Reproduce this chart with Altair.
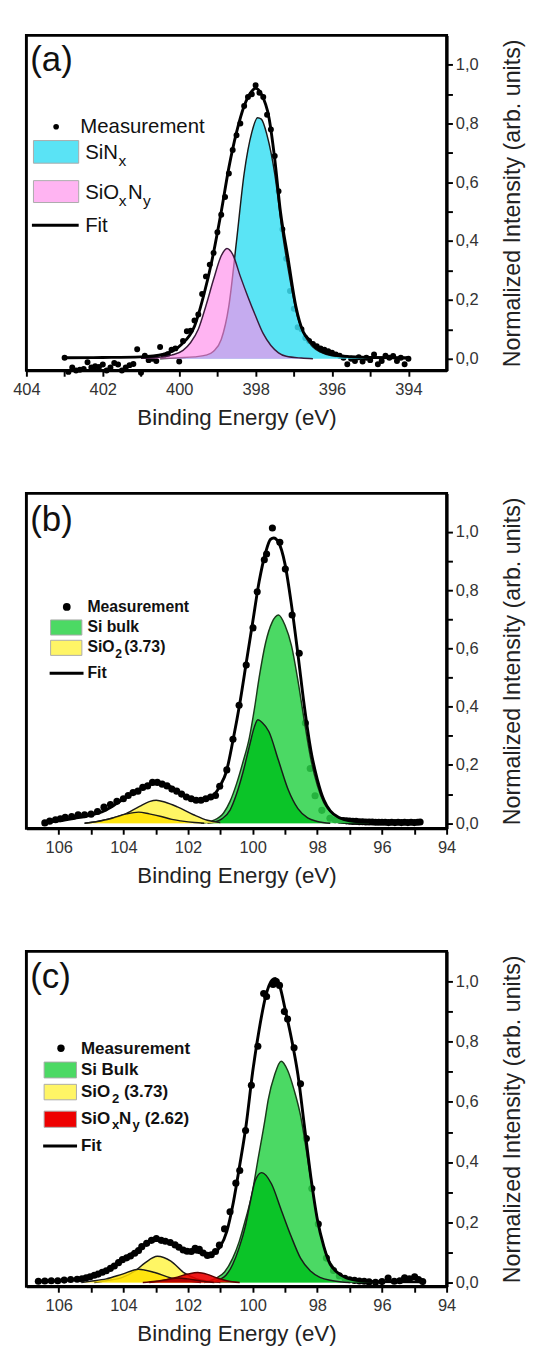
import altair as alt
import pandas as pd

FONT = "Liberation Sans, Arial, sans-serif"

# ---------------- Panel (a): N 1s ----------------
a_meas_x = [403.0, 402.9, 402.8, 402.7, 402.6, 402.5, 402.4, 402.3, 402.2, 402.1,
            402.0, 401.9, 401.8, 401.7, 401.6, 401.5, 401.4, 401.3, 401.2, 401.1,
            401.0, 400.9, 400.8, 400.7, 400.6, 400.5, 400.4, 400.3, 400.2, 400.1,
            400.0, 399.9, 399.8, 399.7, 399.6, 399.5, 399.4, 399.3, 399.2, 399.1,
            399.0, 398.9, 398.8, 398.7, 398.6, 398.5, 398.4, 398.3, 398.2, 398.1,
            398.0, 397.9, 397.8, 397.7, 397.6, 397.5, 397.4, 397.3, 397.2, 397.1,
            397.0, 396.9, 396.8, 396.7, 396.6, 396.5, 396.4, 396.3, 396.2, 396.1,
            396.0, 395.9, 395.8, 395.7, 395.6, 395.5, 395.4, 395.3, 395.2, 395.1,
            395.0, 394.9, 394.8, 394.7, 394.6, 394.5, 394.4, 394.3, 394.2, 394.1, 394.0]
a_meas_y = [0.003, -0.045, -0.030, -0.040, -0.038, -0.035, -0.012, -0.030, -0.026, -0.028,
            -0.020, -0.040, -0.030, -0.015, -0.020, -0.040, -0.030, -0.022, -0.018, 0.032,
            -0.048, 0.010, -0.005, 0.000, -0.008, 0.040, 0.010, 0.015, 0.030, 0.035,
            -0.010, 0.060, 0.093, 0.095, 0.130, 0.150, 0.220, 0.280, 0.320, 0.360,
            0.430, 0.490, 0.550, 0.630, 0.710, 0.760, 0.800, 0.860, 0.890, 0.900,
            0.930, 0.905, 0.890, 0.830, 0.780, 0.690, 0.570, 0.440, 0.340, 0.230,
            0.170, 0.107, 0.100, 0.070, 0.060, 0.050, 0.042, 0.035, 0.030, 0.025,
            0.020, 0.014, 0.010, 0.003, -0.019, 0.000, -0.008, 0.005, -0.010, 0.003,
            -0.005, 0.014, -0.019, -0.008, 0.010, 0.003, 0.009, -0.008, 0.003, -0.019, 0.000]

a_fit_x = [394.0, 395.0, 395.5, 396.0, 396.4, 396.6, 396.75, 396.95, 397.15, 397.35,
           397.5, 397.65, 397.85, 398.0, 398.1, 398.3, 398.5, 398.7, 398.9, 399.15,
           399.35, 399.6, 399.95, 400.4, 401.0, 402.0, 403.0]
a_fit_y = [0.003, 0.004, 0.007, 0.014, 0.036, 0.065, 0.09, 0.18, 0.34, 0.50,
           0.68, 0.82, 0.90, 0.92, 0.91, 0.86, 0.77, 0.65, 0.50, 0.33,
           0.22, 0.11, 0.047, 0.015, 0.006, 0.004, 0.003]

a_sinx_x = [394.0, 395.0, 395.5, 396.0, 396.3, 396.5, 396.7, 396.9, 397.1, 397.3,
            397.5, 397.7, 397.85, 397.95, 398.1, 398.3, 398.5, 398.7, 398.9, 399.1,
            399.3, 399.6, 400.0, 400.5]
a_sinx_y = [0.0, 0.003, 0.006, 0.010, 0.022, 0.040, 0.075, 0.140, 0.270, 0.430,
            0.630, 0.760, 0.815, 0.820, 0.770, 0.630, 0.400, 0.180, 0.065, 0.025,
            0.012, 0.006, 0.003, 0.0]

a_sion_x = [396.5, 396.8, 397.2, 397.4, 397.6, 397.8, 398.0, 398.2, 398.4, 398.6,
            398.75, 398.9, 399.1, 399.3, 399.5, 399.7, 399.9, 400.2, 400.6, 401.0]
a_sion_y = [0.0, 0.002, 0.008, 0.020, 0.045, 0.085, 0.145, 0.210, 0.280, 0.355,
            0.375, 0.350, 0.270, 0.180, 0.100, 0.055, 0.028, 0.012, 0.004, 0.001]

# ---------------- Panel (b): Si 2p ----------------
b_meas_x = [106.43, 106.28, 106.10, 105.95, 105.80, 105.60, 105.40, 105.20, 105.00, 104.80,
            104.60, 104.40, 104.20, 104.00, 103.85, 103.70, 103.55, 103.40, 103.25, 103.10,
            102.95, 102.80, 102.65, 102.50, 102.35, 102.20, 102.05, 101.90, 101.75, 101.60,
            101.45, 101.30, 101.15, 101.02, 100.80, 100.61, 100.42, 100.20, 99.99, 99.86,
            99.64, 99.57, 99.39, 99.16, 98.99, 98.78, 98.56, 98.37, 98.22, 98.07,
            97.86, 97.61, 97.45, 97.30, 97.20, 97.10, 97.00, 96.90, 96.80, 96.70,
            96.60, 96.50, 96.40, 96.30, 96.20, 96.10, 96.00, 95.90, 95.80, 95.70,
            95.60, 95.50, 95.40, 95.30, 95.20, 95.10, 95.00, 94.90, 94.82]
b_meas_y = [0.001, 0.007, 0.012, 0.015, 0.020, 0.023, 0.029, 0.029, 0.031, 0.040,
            0.055, 0.064, 0.075, 0.084, 0.095, 0.105, 0.110, 0.123, 0.128, 0.140,
            0.140, 0.134, 0.128, 0.117, 0.110, 0.100, 0.090, 0.084, 0.079, 0.079,
            0.084, 0.090, 0.095, 0.127, 0.183, 0.288, 0.405, 0.543, 0.671, 0.795,
            0.905, 0.925, 1.014, 0.965, 0.873, 0.715, 0.584, 0.344, 0.188, 0.094,
            0.044, 0.017, 0.012, 0.010, 0.009, 0.008, 0.007, 0.006, 0.006, 0.005,
            0.005, 0.004, 0.004, 0.004, 0.003, 0.003, 0.003, 0.003, 0.002, 0.003,
            0.002, 0.003, 0.002, 0.003, 0.002, 0.003, 0.002, 0.003, 0.004]

b_fit_x = [106.43, 106.0, 105.5, 105.0, 104.6, 104.2, 103.8, 103.4, 103.1, 102.9,
           102.6, 102.3, 102.0, 101.7, 101.45, 101.2, 101.0, 100.82, 100.6, 100.4,
           100.2, 100.0, 99.8, 99.6, 99.45, 99.35, 99.2, 99.0, 98.8, 98.6,
           98.4, 98.2, 98.0, 97.8, 97.6, 97.3, 97.0, 96.5, 96.0, 94.8]
b_fit_y = [0.003, 0.008, 0.017, 0.028, 0.042, 0.068, 0.097, 0.122, 0.135, 0.137,
           0.128, 0.108, 0.090, 0.080, 0.082, 0.097, 0.130, 0.175, 0.290, 0.410,
           0.550, 0.690, 0.830, 0.930, 0.975, 0.980, 0.965, 0.890, 0.750, 0.580,
           0.400, 0.250, 0.150, 0.080, 0.042, 0.018, 0.008, 0.004, 0.003, 0.003]

b_bulk1_x = [101.6, 101.2, 100.9, 100.7, 100.5, 100.3, 100.1, 99.95, 99.8, 99.6,
             99.4, 99.2, 99.0, 98.8, 98.6, 98.4, 98.2, 98.0, 97.8, 97.5,
             97.2, 96.8, 96.4]
b_bulk1_y = [0.0, 0.010, 0.035, 0.075, 0.135, 0.210, 0.295, 0.390, 0.500, 0.620,
             0.690, 0.715, 0.680, 0.610, 0.490, 0.350, 0.220, 0.130, 0.070, 0.030,
             0.012, 0.004, 0.0]

b_bulk2_x = [101.4, 101.2, 100.95, 100.7, 100.5, 100.3, 100.1, 99.95, 99.84, 99.7,
             99.5, 99.2, 98.9, 98.6, 98.3, 98.0, 97.6]
b_bulk2_y = [0.0, 0.003, 0.015, 0.045, 0.100, 0.175, 0.265, 0.330, 0.355, 0.345,
             0.315, 0.215, 0.115, 0.050, 0.018, 0.006, 0.0]

b_ox1_x = [105.2, 104.6, 104.0, 103.5, 103.2, 102.98, 102.7, 102.33, 101.83, 101.4, 101.0]
b_ox1_y = [0.0, 0.010, 0.029, 0.058, 0.074, 0.079, 0.072, 0.056, 0.029, 0.010, 0.002]

b_ox2_x = [105.2, 104.8, 104.33, 103.9, 103.53, 103.2, 102.83, 102.5, 102.23, 101.8, 101.5]
b_ox2_y = [0.0, 0.006, 0.018, 0.032, 0.038, 0.032, 0.023, 0.013, 0.008, 0.002, 0.0]

# ---------------- Panel (c): Si 2p ----------------
c_meas_x = [106.63, 106.43, 106.23, 106.03, 105.83, 105.63, 105.43, 105.28, 105.15, 105.03,
            104.90, 104.78, 104.65, 104.53, 104.40, 104.28, 104.15, 104.03, 103.90, 103.78,
            103.65, 103.53, 103.43, 103.28, 103.13, 102.98, 102.83, 102.70, 102.55, 102.40,
            102.28, 102.15, 102.03, 101.90, 101.78, 101.65, 101.53, 101.40, 101.28, 101.15,
            101.03, 100.87, 100.70, 100.52, 100.40, 100.22, 100.04, 99.84, 99.66, 99.57,
            99.37, 99.27, 99.17, 99.02, 98.92, 98.72, 98.52, 98.34, 98.17, 97.97,
            97.72, 97.50, 97.32, 97.15, 97.00, 96.85, 96.70, 96.55, 96.40, 96.20,
            96.00, 95.81, 95.62, 95.45, 95.30, 95.15, 94.99, 94.87, 94.74]
c_meas_y = [0.004, 0.005, 0.006, 0.006, 0.008, 0.010, 0.011, 0.012, 0.016, 0.019,
            0.024, 0.028, 0.034, 0.039, 0.047, 0.055, 0.066, 0.076, 0.082, 0.088,
            0.097, 0.106, 0.119, 0.130, 0.140, 0.146, 0.140, 0.137, 0.133, 0.125,
            0.117, 0.108, 0.104, 0.103, 0.114, 0.110, 0.098, 0.090, 0.092, 0.103,
            0.124, 0.178, 0.235, 0.330, 0.372, 0.505, 0.655, 0.785, 0.960, 0.950,
            0.990, 1.000, 0.987, 0.900, 0.875, 0.780, 0.660, 0.478, 0.312, 0.194,
            0.081, 0.040, 0.022, 0.014, 0.009, 0.007, 0.005, 0.004, 0.002, 0.001,
            0.003, 0.015, 0.004, 0.006, 0.016, 0.012, 0.019, 0.010, 0.003]

c_fit_x = [106.63, 106.0, 105.5, 105.0, 104.6, 104.2, 103.8, 103.4, 103.1, 102.9,
           102.6, 102.3, 102.0, 101.7, 101.4, 101.2, 101.0, 100.8, 100.6, 100.4,
           100.2, 100.0, 99.8, 99.6, 99.4, 99.3, 99.15, 99.0, 98.8, 98.6,
           98.4, 98.2, 98.0, 97.8, 97.6, 97.4, 97.1, 96.7, 96.2, 94.8]
c_fit_y = [0.004, 0.006, 0.010, 0.020, 0.036, 0.062, 0.092, 0.120, 0.138, 0.140,
           0.132, 0.118, 0.106, 0.100, 0.096, 0.098, 0.120, 0.170, 0.265, 0.390,
           0.525, 0.700, 0.840, 0.950, 1.005, 1.010, 0.980, 0.910, 0.810, 0.690,
           0.520, 0.350, 0.210, 0.120, 0.060, 0.035, 0.015, 0.006, 0.003, 0.002]

c_bulk1_x = [101.5, 101.12, 100.87, 100.62, 100.42, 100.22, 100.02, 99.85, 99.62, 99.52,
             99.32, 99.12, 98.92, 98.72, 98.52, 98.37, 98.17, 97.97, 97.72, 97.42,
             97.02, 96.6, 96.2]
c_bulk1_y = [0.0, 0.015, 0.035, 0.080, 0.135, 0.210, 0.295, 0.400, 0.540, 0.607,
             0.690, 0.735, 0.705, 0.640, 0.555, 0.460, 0.320, 0.195, 0.095, 0.040,
             0.013, 0.004, 0.0]

c_bulk2_x = [101.2, 101.02, 100.82, 100.62, 100.42, 100.22, 100.07, 99.92, 99.72, 99.42,
             99.12, 98.82, 98.52, 98.22, 97.92, 97.52, 97.0]
c_bulk2_y = [0.0, 0.010, 0.025, 0.060, 0.115, 0.190, 0.270, 0.339, 0.365, 0.328,
             0.242, 0.156, 0.081, 0.039, 0.017, 0.006, 0.0]

c_ox1_x = [104.9, 104.53, 104.03, 103.63, 103.33, 102.95, 102.53, 102.13, 101.73, 101.33, 101.0]
c_ox1_y = [0.0, 0.006, 0.017, 0.039, 0.065, 0.087, 0.071, 0.033, 0.012, 0.004, 0.0]

c_ox2_x = [105.3, 105.03, 104.53, 104.03, 103.53, 103.03, 102.53, 102.03, 101.6]
c_ox2_y = [0.0, 0.004, 0.012, 0.028, 0.044, 0.033, 0.015, 0.006, 0.0]

c_on1_x = [103.2, 102.8, 102.4, 102.0, 101.7, 101.4, 101.1, 100.8, 100.4]
c_on1_y = [0.0, 0.006, 0.016, 0.028, 0.033, 0.027, 0.015, 0.006, 0.0]

c_on2_x = [103.4, 103.0, 102.6, 102.3, 102.0, 101.6, 101.2]
c_on2_y = [0.0, 0.004, 0.011, 0.015, 0.012, 0.005, 0.0]

# axis ticks
a_ticks = [394, 395, 396, 397, 398, 399, 400, 401, 402, 403, 404]
bc_ticks = [94, 95, 96, 97, 98, 99, 100, 101, 102, 103, 104, 105, 106]
y_ticks = [0.0, 0.1, 0.2, 0.3, 0.4, 0.5, 0.6, 0.7, 0.8, 0.9, 1.0]

W, H = 434, 346
ONE = pd.DataFrame({"k": [0]})


def df(xs, ys):
    return pd.DataFrame({"x": xs, "y": ys})


def encs(xdom, ydom, xt):
    ex = alt.X("x:Q",
               scale=alt.Scale(domain=xdom, reverse=True, nice=False, zero=False),
               axis=alt.Axis(values=xt, title="Binding Energy (eV)",
                             labelExpr="datum.value % 2 == 0 ? datum.label : ''"))
    ey = alt.Y("y:Q",
               scale=alt.Scale(domain=ydom, nice=False, zero=False),
               axis=alt.Axis(values=y_ticks, orient="right",
                             title="Normalized Intensity (arb. units)",
                             titleAngle=270, titleBaseline="top",
                             labelExpr="round(datum.value*10) % 2 == 0 ? replace(format(datum.value, '.1f'), '.', ',') : ''"))
    return ex, ey


def comp(data, ex, ey, color, opacity, line_color="#1a1a1a"):
    fill = alt.Chart(data).mark_area(interpolate="monotone", color=color, opacity=opacity).encode(
        x=ex, y=ey, y2=alt.datum(0))
    edge = alt.Chart(data).mark_line(interpolate="monotone", color=line_color, strokeWidth=1.5).encode(
        x=ex, y=ey)
    return [fill, edge]


def txt(s, x, y, size, bold=False):
    return alt.Chart(ONE).mark_text(text=s, align="left", baseline="alphabetic", font=FONT,
                                    fontSize=size, fontWeight="bold" if bold else "normal",
                                    color="#111").encode(x=alt.value(x), y=alt.value(y))


def swatch(color, x1, x2, y1, y2):
    return alt.Chart(ONE).mark_rect(color=color, stroke="#aaaaaa", strokeWidth=1).encode(
        x=alt.value(x1), x2=alt.value(x2), y=alt.value(y1), y2=alt.value(y2))


def ldot(x, y, size):
    return alt.Chart(ONE).mark_circle(color="black", opacity=1, size=size).encode(
        x=alt.value(x), y=alt.value(y))


def lline(x1, x2, y):
    return alt.Chart(ONE).mark_rule(color="black", strokeWidth=3).encode(
        x=alt.value(x1), x2=alt.value(x2), y=alt.value(y))


def panel(xdom, ydom, xt, meas, dot_size, comps, fit, letter, letter_y, legend):
    ex, ey = encs(xdom, ydom, xt)
    layers = [alt.Chart(meas).mark_circle(color="black", opacity=1, size=dot_size).encode(x=ex, y=ey)]
    for data, color, op, lc in comps:
        layers += comp(data, ex, ey, color, op, lc)
    layers.append(alt.Chart(fit).mark_line(interpolate="monotone", color="black", strokeWidth=3).encode(x=ex, y=ey))
    layers.append(txt(letter, 4, letter_y, 36))
    layers += legend
    return alt.layer(*layers).properties(width=W, height=H)


# ---- panel a
leg_a = [
    ldot(30.7, 94.3, 34), txt("Measurement", 55.7, 101, 21),
    swatch("#5ae3f5", 7.3, 54, 108.6, 132), txt("SiN", 60.7, 127.6, 21), txt("x", 95, 134.5, 16),
    swatch("#ffb4f2", 7.3, 54, 150, 172.6), txt("SiO", 60.7, 169.3, 21), txt("x", 95.5, 176, 16),
    txt("N", 105, 169.3, 21), txt("y", 120.5, 176, 16),
    lline(5.7, 54, 196), txt("Fit", 60.7, 202.6, 21),
]
pa = panel([393, 404], [-0.04, 1.10], a_ticks, df(a_meas_x, a_meas_y), 38,
           [(df(a_sinx_x, a_sinx_y), "#3ddff3", 0.85, "#1a1a1a"),
            (df(a_sion_x, a_sion_y), "#ff8ceb", 0.65, "#3a1a3a")],
           df(a_fit_x, a_fit_y), "(a)", 36.5, leg_a)

# ---- panel b
leg_b = [
    ldot(41.7, 117.3, 64), txt("Measurement", 63, 122.3, 16.3, True),
    swatch("#4cd964", 25, 57.3, 130.7, 146.3), txt("Si bulk", 63, 143, 16.3, True),
    swatch("#fff566", 25, 57.3, 151.7, 167.3), txt("SiO", 63, 164, 16.3, True),
    txt("2", 91.7, 169.5, 12.5, True), txt("(3.73)", 101, 164, 16.3, True),
    lline(24, 59, 185.7), txt("Fit", 63, 190.7, 16.3, True),
]
pb = panel([94, 107], [-0.018, 1.133], bc_ticks, df(b_meas_x, b_meas_y), 54,
           [(df(b_bulk1_x, b_bulk1_y), "#2cd249", 0.85, "#1a3a1a"),
            (df(b_bulk2_x, b_bulk2_y), "#00c01d", 0.85, "#1a1a1a"),
            (df(b_ox1_x, b_ox1_y), "#fff549", 0.85, "#1a1a1a"),
            (df(b_ox2_x, b_ox2_y), "#ffe100", 0.85, "#1a1a1a")],
           df(b_fit_x, b_fit_y), "(b)", 38.5, leg_b)

# ---- panel c
leg_c = [
    ldot(35.7, 100, 58), txt("Measurement", 56.3, 106, 17.5, True),
    swatch("#4cd964", 18.3, 51.7, 114.3, 130.7), txt("Si Bulk", 56.3, 127.7, 17.5, True),
    swatch("#fff566", 18.3, 51.7, 137.3, 153.3), txt("SiO", 56.3, 150.7, 17.5, True),
    txt("2", 88.3, 156.5, 13.5, True), txt("(3.73)", 100.7, 150.7, 17.5, True),
    swatch("#ee0000", 18.3, 51.7, 165, 181.7), txt("SiO", 56.3, 178.3, 17.5, True),
    txt("x", 88.3, 183.8, 13.5, True), txt("N", 95.7, 178.3, 17.5, True),
    txt("y", 109.7, 183.8, 13.5, True), txt("(2.62)", 122.3, 178.3, 17.5, True),
    lline(17.3, 52.3, 201), txt("Fit", 56.3, 206, 17.5, True),
]
pc = panel([94, 107], [-0.013, 1.10], bc_ticks, df(c_meas_x, c_meas_y), 54,
           [(df(c_bulk1_x, c_bulk1_y), "#2cd249", 0.85, "#1a3a1a"),
            (df(c_bulk2_x, c_bulk2_y), "#00c01d", 0.85, "#1a1a1a"),
            (df(c_ox1_x, c_ox1_y), "#fff549", 0.85, "#1a1a1a"),
            (df(c_ox2_x, c_ox2_y), "#ffe100", 0.85, "#1a1a1a"),
            (df(c_on1_x, c_on1_y), "#eb0000", 0.9, "#5a0000"),
            (df(c_on2_x, c_on2_y), "#b00000", 0.9, "#5a0000")],
           df(c_fit_x, c_fit_y), "(c)", 38, leg_c)

axis_common = dict(grid=False, domainColor="black", domainWidth=3, tickColor="black",
                   tickWidth=2, tickSize=6, labelFont=FONT, labelFontSize=17, labelColor="#333",
                   titleFont=FONT, titleColor="#222", titleFontWeight="normal",
                   labelFlush=False, labelOverlap=False)

chart = (alt.vconcat(pa, pb, pc, spacing=62)
         .properties(padding={"left": 3, "top": 4, "right": 0, "bottom": 0})
         .configure_view(stroke="black", strokeWidth=3)
         .configure_axisX(labelPadding=6, titleFontSize=23, titlePadding=10, **axis_common)
         .configure_axisY(labelPadding=3, titleFontSize=24, titlePadding=24, **axis_common)
         .configure_text(font=FONT))

chart.save("out.html", embed_options={"renderer": "svg", "actions": False})
